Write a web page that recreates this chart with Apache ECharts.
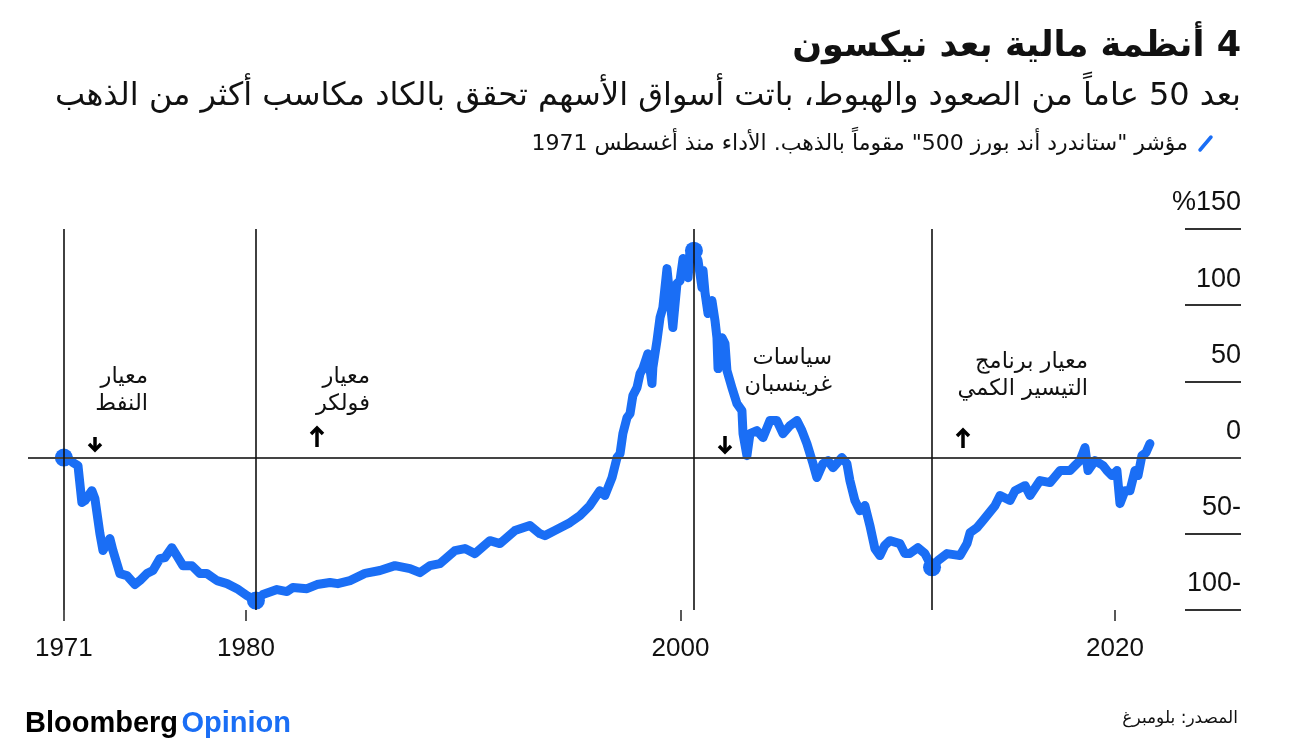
<!DOCTYPE html>
<html><head><meta charset="utf-8">
<script src="https://cdn.jsdelivr.net/npm/echarts@6/dist/echarts.min.js"></script>
<style>html,body{margin:0;padding:0;background:#fff}#c{width:1297px;height:748px}</style>
</head><body><div id="c"></div>
<script>
// ---- data (decimal year, % performance of S&P 500 priced in gold since Aug 1971) ----
const years = [1971.62,1971.80,1972.04,1972.27,1972.45,1972.59,1972.91,1973.05,1973.28,1973.42,1973.74,1973.88,1974.20,1974.52,1974.89,1975.12,1975.44,1975.72,1976.04,1976.27,1976.59,1976.82,1977.10,1977.51,1977.88,1978.20,1978.67,1979.13,1979.59,1980.05,1980.46,1980.78,1981.43,1981.89,1982.16,1982.81,1983.27,1983.87,1984.23,1984.79,1985.48,1986.17,1986.86,1987.55,1988.01,1988.47,1988.93,1989.62,1990.08,1990.54,1991.23,1991.69,1992.38,1993.07,1993.53,1993.76,1994.22,1994.91,1995.37,1995.83,1996.29,1996.52,1996.85,1997.08,1997.22,1997.35,1997.54,1997.68,1997.81,1998.00,1998.14,1998.27,1998.50,1998.69,1998.73,1998.92,1999.06,1999.19,1999.38,1999.47,1999.65,1999.84,1999.98,2000.12,2000.35,2000.44,2000.62,2000.81,2000.99,2001.04,2001.13,2001.27,2001.45,2001.59,2001.68,2001.73,2001.91,2002.05,2002.14,2002.37,2002.60,2002.83,2002.88,2003.06,2003.20,2003.52,2003.80,2004.12,2004.44,2004.72,2005.04,2005.36,2005.59,2005.82,2006.10,2006.28,2006.56,2006.79,2007.02,2007.43,2007.66,2007.80,2008.03,2008.26,2008.49,2008.72,2008.95,2009.18,2009.40,2009.64,2010.10,2010.33,2010.56,2010.93,2011.25,2011.58,2011.85,2012.27,2012.87,2013.19,2013.33,2013.65,2013.92,2014.48,2014.71,2015.17,2015.40,2015.86,2016.09,2016.55,2017.01,2017.47,2017.93,2018.16,2018.39,2018.62,2018.76,2019.08,2019.45,2019.63,2019.86,2020.09,2020.23,2020.46,2020.69,2020.92,2021.06,2021.24,2021.43,2021.61];
const values = [0,-0.5,-3.3,-5.2,-29.5,-28.2,-21.7,-26.9,-49.9,-61,-53.1,-61,-76.1,-77.4,-83.3,-80.7,-76.1,-74.1,-66.3,-65.6,-59.1,-64.3,-70.9,-70.9,-76.1,-76.1,-80.7,-82.7,-86,-90.6,-93.8,-89.9,-86.6,-87.9,-85.3,-86,-83.3,-82,-82.7,-80.7,-76,-74.1,-70.9,-72.8,-75.5,-70.9,-69.6,-61,-59.7,-63,-54.5,-56.4,-47.9,-44.6,-49.9,-51.2,-47.9,-42.7,-38.1,-31.5,-21.7,-24.9,-13.1,0,2.6,15.7,26.2,28.9,40.7,45.9,55.1,58.4,68.2,48.6,59.1,76.8,91.9,98.4,124,124.7,85.3,114.2,116.1,130.6,118.1,133.9,135.8,129.3,111.5,122.7,108.3,94.5,103,89.9,78.7,58.4,78.7,74.8,57.1,45.9,35.4,30.8,15.7,1.3,15.7,17.7,13.1,24.3,24.3,15.7,21,24.3,17.7,9.2,-3.9,-13.1,-3.9,-2,-6.6,0,-3.9,-15.1,-28.2,-34.8,-31.5,-44.6,-59.7,-64.3,-57.7,-54.5,-56.4,-62.9,-62.9,-59.1,-62.9,-72,-67.6,-63,-64.3,-56.4,-49.2,-45.9,-41.3,-31.5,-24.9,-28.2,-21.7,-18.4,-24.9,-15.1,-16.4,-8.5,-8.5,-5.2,-2,6.6,-8.5,-2,-5.2,-8.5,-11.8,-8.5,-30.2,-21.7,-21.7,-8.5,-11.8,1.3,3.3,9.2];
const regimeDates = [1971.62, 1980.46, 2000.62, 2011.58];
const regimeValues = [0, -93.8, 135.8, -72];
const xTickValues = [1971.62, 1980, 2000, 2020];
const xTickLabels = ['1971', '1980', '2000', '2020'];
const yTickValues = [-100, -50, 0, 50, 100, 150];

const RLE = '\u202B', PDF = '\u202C';
const titleText = '4 أنظمة مالية بعد نيكسون';
const subtitleText = 'بعد 50 عاماً من الصعود والهبوط، باتت أسواق الأسهم تحقق بالكاد مكاسب أكثر من الذهب';
const legendText = 'مؤشر "ستاندرد أند بورز 500" مقوماً بالذهب. الأداء منذ أغسطس 1971';
const sourceText = 'المصدر: بلومبرغ';
const annoOil = 'معيار\nالنفط';
const annoVolcker = 'معيار\nفولكر';
const annoGreenspan = 'سياسات\nغرينسبان';
const annoQE = 'معيار برنامج\nالتيسير الكمي';

const BLUE = '#1a6ef5';
const AR = '"DejaVu Sans", sans-serif';
const LAT = '"Liberation Sans", Arial, sans-serif';
const rtl = s => s.split('\n').map(l => RLE + l + PDF).join('\n');

function arrow(x, yTop, yBot, up) {
  const hy = up ? yTop : yBot, d = up ? 6 : -6;
  return {
    type: 'group', children: [
      {type: 'line', shape: {x1: x, y1: yTop, x2: x, y2: yBot}, style: {stroke: '#000', lineWidth: 3.5}},
      {type: 'polyline', shape: {points: [[x - 6, hy + d], [x, hy], [x + 6, hy + d]]}, style: {stroke: '#000', lineWidth: 3.5, fill: null}}
    ]
  };
}
function anno(xRight, yTop, text) {
  return {type: 'text', x: xRight, y: yTop, style: {text: rtl(text), align: 'right', verticalAlign: 'top', font: '22.5px ' + AR, lineHeight: 27, fill: '#111'}};
}

const chart = echarts.init(document.getElementById('c'), null, {renderer: 'canvas'});
chart.setOption({
  animation: false,
  backgroundColor: '#fff',
  grid: [
    {left: 28, right: 56, top: 229, bottom: 138},
    {left: 1185, right: 56, top: 229, bottom: 138}
  ],
  xAxis: [
    {gridIndex: 0, type: 'value', min: 1969.97, max: 2025.8,
      axisLine: {show: false, onZero: false}, splitLine: {show: false},
      axisTick: {show: true, customValues: xTickValues, length: 11, lineStyle: {color: '#222', width: 1.5}},
      axisLabel: {customValues: xTickValues, margin: 26, fontSize: 26, fontFamily: LAT, color: '#111',
        formatter: v => { const i = xTickValues.findIndex(t => Math.abs(t - v) < 0.01); return i >= 0 ? xTickLabels[i] : ''; }}},
    {gridIndex: 1, type: 'value', show: false, min: 0, max: 1}
  ],
  yAxis: [
    {gridIndex: 0, type: 'value', min: -100, max: 150, interval: 50, axisLine: {show: false}, axisTick: {show: false}, axisLabel: {show: false}, splitLine: {show: false}},
    {gridIndex: 1, type: 'value', min: -100, max: 150, interval: 50, position: 'right',
      axisLine: {show: false}, axisTick: {show: false},
      splitLine: {show: true, lineStyle: {color: '#333', width: 2}},
      axisLabel: {inside: true, margin: 0, verticalAlign: 'bottom', padding: [0, 0, 12, 0], fontSize: 27, lineHeight: 28, fontFamily: LAT, color: '#111',
        formatter: v => v === 150 ? '%150' : (v < 0 ? Math.abs(v) + '-' : String(v))}}
  ],
  series: [
    {type: 'line', xAxisIndex: 0, yAxisIndex: 0, data: [], z: 1, silent: true,
      markLine: {silent: true, symbol: 'none', label: {show: false}, lineStyle: {color: '#444', width: 2, type: 'solid'}, data: [{yAxis: 0}]}},
    {type: 'line', xAxisIndex: 0, yAxisIndex: 0, z: 2, showSymbol: false, smooth: false,
      lineStyle: {color: BLUE, width: 9, cap: 'round', join: 'round'},
      data: years.map((y, i) => [y, values[i]])},
    {type: 'line', xAxisIndex: 0, yAxisIndex: 0, data: [], z: 3, silent: true,
      markLine: {silent: true, symbol: 'none', label: {show: false}, lineStyle: {color: '#111', width: 1.6, type: 'solid'}, data: regimeDates.map(d => ({xAxis: d}))}},
    {type: 'scatter', xAxisIndex: 0, yAxisIndex: 0, z: 4, symbolSize: 18, itemStyle: {color: BLUE, opacity: 1},
      data: regimeDates.map((d, i) => [d, regimeValues[i]])}
  ],
  graphic: [
    {type: 'text', x: 1241, y: 47, style: {text: rtl(titleText), align: 'right', verticalAlign: 'middle', font: 'bold 35px ' + AR, fill: '#111'}},
    {type: 'text', x: 1241, y: 97, style: {text: rtl(subtitleText), align: 'right', verticalAlign: 'middle', font: '32px ' + AR, fill: '#111'}},
    {type: 'line', shape: {x1: 1200, y1: 150, x2: 1211, y2: 137}, style: {stroke: BLUE, lineWidth: 3.5, lineCap: 'round'}},
    {type: 'text', x: 1188, y: 144, style: {text: rtl(legendText), align: 'right', verticalAlign: 'middle', font: '22px ' + AR, fill: '#111'}},
    anno(148, 364, annoOil),
    anno(370, 364, annoVolcker),
    anno(832, 345, annoGreenspan),
    anno(1088, 349, annoQE),
    arrow(95, 437, 450, false),
    arrow(317, 428, 447, true),
    arrow(725, 436, 452, false),
    arrow(963, 430, 448, true),
    {type: 'text', x: 1238, y: 719, style: {text: rtl(sourceText), align: 'right', verticalAlign: 'middle', font: '17px ' + AR, fill: '#111'}},
    {type: 'text', x: 25, y: 724, style: {text: '{a|Bloomberg} {b|Opinion}', align: 'left', verticalAlign: 'middle',
      rich: {a: {fontFamily: LAT, fontWeight: 'bold', fontSize: 29, fill: '#000'}, b: {fontFamily: LAT, fontWeight: 'bold', fontSize: 29, fill: BLUE}}}}
  ]
});
</script>
</body></html>
